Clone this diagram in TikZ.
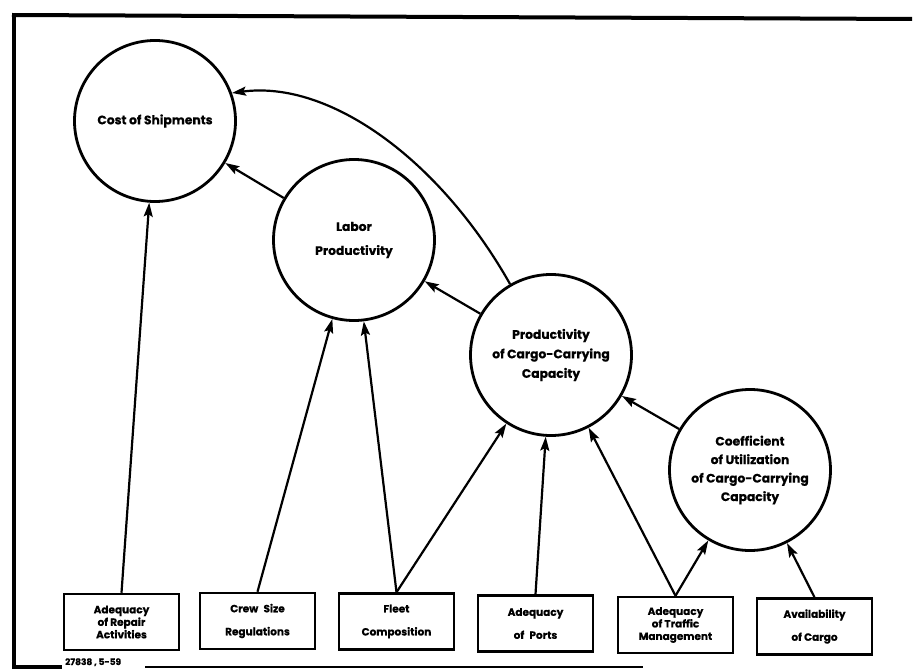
\documentclass[tikz,border=0pt]{standalone}
\usepackage{fontspec}
\setmainfont{Poppins}[BoldFeatures={FakeBold=0.6}]
\usetikzlibrary{arrows.meta}
\begin{document}
\begin{tikzpicture}[x=1pt,y=-1pt,
  circ/.style={circle, draw, line width=2.8pt, minimum size=161pt, inner sep=0pt, align=center,
    font=\bfseries\fontsize{12.3}{19.5}\selectfont},
  box/.style={draw, line width=2.5pt, minimum width=115pt, minimum height=56pt, inner sep=0pt, align=center,
    font=\bfseries\fontsize{10.5}{12.5}\selectfont},
  boxtwo/.style={box, font=\bfseries\fontsize{10.5}{23}\selectfont},
  arr/.style={line width=2.2pt, -{Stealth[length=14pt,width=9pt,inset=2.5pt]}},
  frame/.style={line width=4pt},
  idtext/.style={anchor=base west, inner sep=0pt, font=\bfseries\fontsize{9}{10}\selectfont}]
\useasboundingbox (0,0) rectangle (915,671);
% frame
\draw[frame] (912,19) -- (12,15);
\draw[frame] (14,13) -- (14,667) -- (62,667);
\draw[line width=2.8pt] (145,667) -- (643,667);
\node[idtext] (id) at (65,665) {27838 , 5-59};
% circles
\node[circ] (cost) at (155,121) {Cost of Shipments};
\node[circ, font=\bfseries\fontsize{12.3}{24}\selectfont] (labor) at (354,240) {Labor\\Productivity};
\node[circ] (prod) at (551,355) {Productivity\\of Cargo-Carrying\\Capacity};
\node[circ, font=\bfseries\fontsize{12.3}{18.5}\selectfont] (coeff) at (750,470) {Coefficient\\of Utilization\\of Cargo-Carrying\\Capacity};
% boxes
\node[box] (b1) at (121.5,622) {Adequacy\\of Repair\\Activities};
\node[boxtwo] (b2) at (257.5,621) {Crew\enspace Size\\Regulations};
\node[boxtwo] (b3) at (396.5,621.5) {Fleet\\Composition};
\node[boxtwo] (b4) at (535.5,623.5) {Adequacy\\of\enspace Ports};
\node[box] (b5) at (675.5,625) {Adequacy\\of Traffic\\Management};
\node[boxtwo] (b6) at (814.5,626.5) {Availability\\of Cargo};
% connectors
\draw[arr] (b1.north) -- (cost);
\draw[arr] (b2.north) -- (labor);
\draw[arr] (b3.north) -- (labor);
\draw[arr] (b3.north) -- (prod);
\draw[arr] (b4.north) -- (prod);
\draw[arr] (b5.north) -- (prod);
\draw[arr] (b5.north) -- (coeff);
\draw[arr] (b6.north) -- (coeff);
\draw[arr] (labor) -- (cost);
\draw[arr] (prod) -- (labor);
\draw[arr] (coeff) -- (prod);
\draw[arr] (prod.120) .. controls (440,160) and (330,80) .. (cost.20);
\end{tikzpicture}
\end{document}
